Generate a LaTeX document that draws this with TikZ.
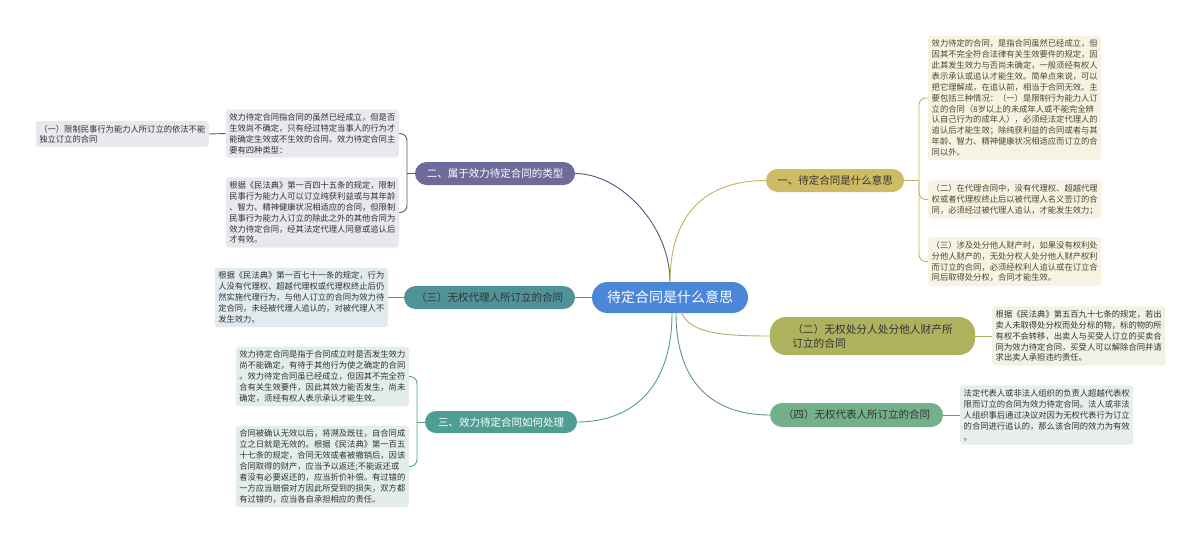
\documentclass[tikz,border=0pt]{standalone}
\usepackage{fontspec}
\setmainfont{Noto Sans CJK SC}
\definecolor{cblue}{HTML}{4A87D9}
\definecolor{cgold}{HTML}{CFBA66}
\definecolor{cgoldl}{HTML}{C6B15A}
\definecolor{cgoldf}{HTML}{F6F3E3}
\definecolor{cpur}{HTML}{6E6B9B}
\definecolor{cpurl}{HTML}{57557F}
\definecolor{cpurf}{HTML}{E8E8EF}
\definecolor{cteal}{HTML}{4F9399}
\definecolor{ctealf}{HTML}{E1EAEE}
\definecolor{cteag}{HTML}{4F9E93}
\definecolor{cteagf}{HTML}{E3EEEB}
\definecolor{coli}{HTML}{AEB25E}
\definecolor{colif}{HTML}{F2F2E4}
\definecolor{cgrn}{HTML}{74B08B}
\definecolor{cgrnf}{HTML}{E6EFEA}
\definecolor{ctxt}{HTML}{333333}
\definecolor{cgtxt}{HTML}{4E4632}
\begin{document}
\begin{tikzpicture}[x=1pt,y=-1pt,
  leaf/.style={rounded corners=3pt, inner xsep=3.5pt, inner ysep=4pt, text width=166pt, align=left, text=ctxt, font=\fontsize{8.3}{10.9}\selectfont},
  branch/.style={inner sep=0pt, font=\fontsize{10.5}{13}\selectfont, align=center},
  conn/.style={line width=0.9pt},
  brk/.style={line width=0.9pt, rounded corners=7pt}]
\useasboundingbox (0,0) rectangle (1200,544);

% center
\node[fill=cblue, rounded corners=15.5pt, minimum width=156pt, minimum height=31pt, inner sep=0pt, text=white, font=\fontsize{14}{16}\selectfont] (c) at (670,297.5) {待定合同是什么意思};

% branches
\node[branch, fill=cgold, rounded corners=11.5pt, minimum width=138pt, minimum height=23pt, text=ctxt] (b1) at (835,180.5) {一、待定合同是什么意思};
\node[branch, fill=cpur, rounded corners=11.5pt, minimum width=160pt, minimum height=23pt, text=white] (b2) at (495,173.5) {二、属于效力待定合同的类型};
\node[branch, fill=cteal, rounded corners=11.5pt, minimum width=171pt, minimum height=23pt, text=ctxt] (b3) at (489.5,297.5) {（三）无权代理人所订立的合同};
\node[branch, fill=cteag, rounded corners=11pt, minimum width=152pt, minimum height=22pt, text=white] (b4) at (501,422) {三、效力待定合同如何处理};
\node[branch, fill=coli, rounded corners=16pt, minimum width=205pt, minimum height=38pt, text=ctxt, align=left, font=\fontsize{10.7}{14}\selectfont] (b5) at (872.5,336) {（二）无权处分人处分他人财产所\\订立的合同\hspace*{96pt}};
\node[branch, fill=cgrn, rounded corners=12pt, minimum width=173pt, minimum height=24pt, text=ctxt] (b6) at (856.5,415) {（四）无权代表人所订立的合同};

% leaves right
\node[leaf, fill=cgoldf, text=cgtxt, anchor=west] (r1) at (928,98) {效力待定的合同，是指合同虽然已经成立，但\\因其不完全符合法律有关生效要件的规定，因\\此其发生效力与否尚未确定，一般须经有权人\\表示承认或追认才能生效。简单点来说，可以\\把它理解成，在追认前，相当于合同无效。主\\要包括三种情况：（一）是限制行为能力人订\\立的合同（8岁以上的未成年人或不能完全辨\\认自己行为的成年人），必须经法定代理人的\\追认后才能生效；除纯获利益的合同或者与其\\年龄、智力、精神健康状况相适应而订立的合\\同以外。};
\node[leaf, fill=cgoldf, text=cgtxt, anchor=west] (r2) at (928,199.5) {（二）在代理合同中，没有代理权、超越代理\\权或者代理权终止后以被代理人名义签订的合\\同，必须经过被代理人追认，才能发生效力；};
\node[leaf, fill=cgoldf, text=cgtxt, anchor=west] (r3) at (928,261.5) {（三）涉及处分他人财产时，如果没有权利处\\分他人财产的，无处分权人处分他人财产权利\\而订立的合同，必须经权利人追认或在订立合\\同后取得处分权，合同才能生效。};
\node[leaf, fill=colif, anchor=west] (r4) at (992,336) {根据《民法典》第五百九十七条的规定，若出\\卖人未取得处分权而处分标的物，标的物的所\\有权不会转移，出卖人与买受人订立的买卖合\\同为效力待定合同，买受人可以解除合同并请\\求出卖人承担违约责任。};
\node[leaf, fill=cgrnf, anchor=west] (r5) at (960,415) {法定代表人或非法人组织的负责人超越代表权\\限而订立的合同为效力待定合同。法人或非法\\人组织事后通过决议对因为无权代表行为订立\\的合同进行追认的，那么该合同的效力为有效\\。};

% leaves left
\node[leaf, fill=cpurf, anchor=east] (la) at (399,133.5) {效力待定合同指合同的虽然已经成立，但是否\\生效尚不确定，只有经过特定当事人的行为才\\能确定生效或不生效的合同。效力待定合同主\\要有四种类型：};
\node[leaf, fill=cpurf, anchor=east] (lb) at (399,212.5) {根据《民法典》第一百四十五条的规定，限制\\民事行为能力人可以订立纯获利益或与其年龄\\、智力、精神健康状况相适应的合同，但限制\\民事行为能力人订立的除此之外的其他合同为\\效力待定合同，经其法定代理人同意或追认后\\才有效。};
\node[leaf, fill=cpurf, anchor=east, font=\fontsize{8.3}{10}\selectfont] (lf) at (209,134) {（一）限制民事行为能力人所订立的依法不能\\独立订立的合同};
\node[leaf, fill=ctealf, anchor=east] (l3) at (388,297.5) {根据《民法典》第一百七十一条的规定，行为\\人没有代理权、超越代理权或代理权终止后仍\\然实施代理行为，与他人订立的合同为效力待\\定合同，未经被代理人追认的，对被代理人不\\发生效力。};
\node[leaf, fill=cteagf, anchor=east] (ta) at (409,376.5) {效力待定合同是指于合同成立时是否发生效力\\尚不能确定，有待于其他行为使之确定的合同\\。效力待定合同虽已经成立，但因其不完全符\\合有关生效要件，因此其效力能否发生，尚未\\确定，须经有权人表示承认才能生效。};
\node[leaf, fill=cteagf, anchor=east] (tb) at (409,466.5) {合同被确认无效以后，将溯及既往，自合同成\\立之日就是无效的。根据《民法典》第一百五\\十七条的规定，合同无效或者被撤销后，因该\\合同取得的财产，应当予以返还;不能返还或\\者没有必要返还的，应当折价补偿。有过错的\\一方应当赔偿对方因此所受到的损失，双方都\\有过错的，应当各自承担相应的责任。};

% coordinates for brackets
\coordinate (k1) at (919,180.5);
\coordinate (k2) at (407,173.5);
\coordinate (k4) at (417,422);
\coordinate (ct) at (670,282);
\coordinate (cb1) at (672,313);
\coordinate (cb2) at (676,313);
\coordinate (cb3) at (681,312);

% center connectors
\draw[conn, cpurl] (ct) .. controls (670,225) and (620,173.5) .. (b2.east);
\draw[conn, cgoldl] (ct) .. controls (670,220) and (700,180.5) .. (b1.west);
\draw[conn, cteal] (c.west) -- (b3.east);
\draw[conn, cteag] (cb1) .. controls (672,390) and (630,422) .. (b4.east);
\draw[conn, cgrn!85!black] (cb2) .. controls (676,385) and (715,415) .. (b6.west);
\draw[conn, coli] (cb3) .. controls (690,333) and (720,336) .. (b5.west);

% branch to leaves
\draw[conn, cgoldl] (b1.east) -- (k1);
\draw[brk, cgoldl] (k1) |- (r1.west);
\draw[brk, cgoldl] (k1) |- (r2.west);
\draw[brk, cgoldl] (k1) |- (r3.west);
\draw[conn, cpurl] (b2.west) -- (k2);
\draw[brk, cpurl] (k2) |- (la.east);
\draw[brk, cpurl] (k2) |- (lb.east);
\draw[conn, cpurl] (la.west) -- (lf.east);
\draw[conn, cteal] (b3.west) -- (l3.east);
\draw[conn, cteag] (b4.west) -- (k4);
\draw[brk, cteag] (k4) |- (ta.east);
\draw[brk, cteag] (k4) |- (tb.east);
\draw[conn, coli] (b5.east) -- (r4.west);
\draw[conn, cgrn!85!black] (b6.east) -- (r5.west);
\end{tikzpicture}
\end{document}
